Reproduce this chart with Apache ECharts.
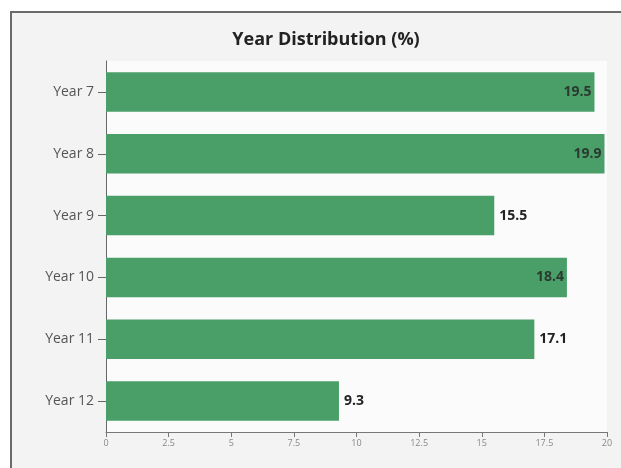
<!DOCTYPE html>
<html>
<head>
<meta charset="utf-8">
<script src="https://cdn.jsdelivr.net/npm/echarts@6/dist/echarts.min.js"></script>
<style>
html,body{margin:0;padding:0;background:#fff;width:621px;height:468px;overflow:hidden;}
#frame{position:absolute;left:10px;top:11px;width:640px;height:480px;background:#f3f3f3;border:2px solid #6a6a6a;box-sizing:border-box;}
#chart{position:absolute;left:0;top:0;width:621px;height:468px;}
</style>
</head>
<body>
<div id="frame"></div>
<div id="chart"></div>
<script>
const categories = ['Year 7', 'Year 8', 'Year 9', 'Year 10', 'Year 11', 'Year 12'];
const values = [19.5, 19.9, 15.5, 18.4, 17.1, 9.3];
const xTicks = [0, 2.5, 5, 7.5, 10, 12.5, 15, 17.5, 20];

const chart = echarts.init(document.getElementById('chart'), null, {renderer: 'canvas'});
const option = {
  backgroundColor: 'transparent',
  animation: false,
  title: {
    text: 'Year Distribution (%)',
    left: 321, top: 26, textAlign: 'center',
    textStyle: {fontFamily: 'Open Sans', fontWeight: 'bold', fontSize: 18, color: '#222'}
  },
  grid: {
    left: 106, top: 61, width: 501, height: 371,
    show: true, backgroundColor: '#fbfbfb', borderWidth: 0
  },
  xAxis: {
    type: 'value', min: xTicks[0], max: xTicks[xTicks.length - 1], interval: 2.5,
    axisLine: {show: true, lineStyle: {color: '#777', width: 1}},
    axisTick: {show: true, length: 5, lineStyle: {color: '#777'}},
    splitLine: {show: false},
    axisLabel: {fontFamily: 'Open Sans', fontSize: 9, color: '#888', margin: 7,
      formatter: v => String(v)}
  },
  yAxis: {
    type: 'category', data: categories, inverse: true,
    axisLine: {show: true, lineStyle: {color: '#666', width: 1}},
    axisTick: {show: true, length: 8, alignWithLabel: true, lineStyle: {color: '#666'}},
    axisLabel: {fontFamily: 'Open Sans', fontSize: 14, color: '#555', margin: 12}
  },
  series: [{
    type: 'bar',
    data: values.map(v => ({
      value: v,
      label: {position: v >= 18 ? 'insideRight' : 'right', color: v >= 18 ? '#2a3a30' : '#222',
        distance: v >= 18 ? 3 : 5}
    })),
    barWidth: '64%',
    itemStyle: {color: '#4a9f68'},
    label: {show: true, fontFamily: 'Open Sans', fontWeight: 'bold', fontSize: 14,
      formatter: p => p.value.toFixed(1)}
  }]
};
chart.setOption(option);
</script>
</body>
</html>
